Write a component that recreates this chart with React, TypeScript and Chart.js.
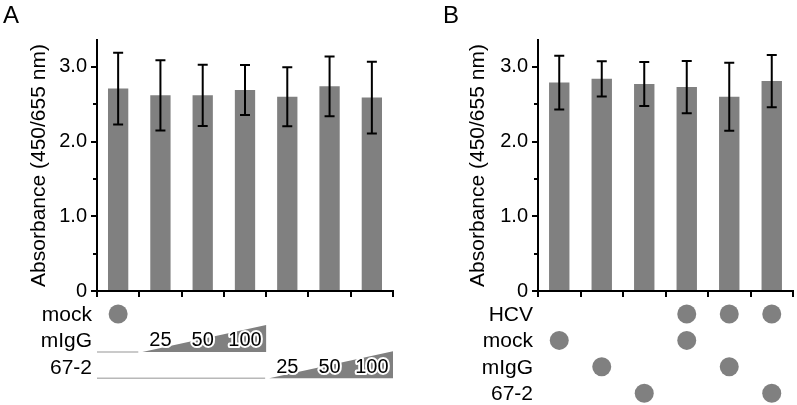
import React, { useEffect, useRef } from 'react';
import { Chart, registerables } from 'chart.js';

Chart.register(...registerables);

const FONT = '"Liberation Sans", Arial, Helvetica, sans-serif';

// ---------- Panel A data ----------
const categoriesA = ['1', '2', '3', '4', '5', '6', '7'];
const meanA = [2.71, 2.62, 2.62, 2.69, 2.6, 2.74, 2.59];
const sdA = [0.48, 0.47, 0.41, 0.335, 0.395, 0.4, 0.48];
const rowLabelsA = ['mock', 'mIgG', '67-2'];
const mockA = [1, 0, 0, 0, 0, 0, 0];
const mIgGDoseA = [null, 25, 50, 100, null, null, null];
const ab672DoseA = [null, null, null, null, 25, 50, 100];

// ---------- Panel B data ----------
const categoriesB = ['1', '2', '3', '4', '5', '6'];
const meanB = [2.79, 2.84, 2.77, 2.73, 2.6, 2.81];
const sdB = [0.36, 0.235, 0.295, 0.35, 0.455, 0.35];
const rowLabelsB = ['HCV', 'mock', 'mIgG', '67-2'];
const hcvB = [0, 0, 0, 1, 1, 1];
const mockB = [1, 0, 0, 1, 0, 0];
const mIgGB = [0, 1, 0, 0, 1, 0];
const ab672B = [0, 0, 1, 0, 0, 1];

// ---------- Axis ----------
const yTickValues = [0, 0.5, 1, 1.5, 2, 2.5, 3];
const yTickLabels: Record<string, string> = { '0': '0', '1': '1.0', '2': '2.0', '3': '3.0' };
const yAxisTitle = 'Absorbance (450/655 nm)';

const BAR_COLOR = '#808080';

type Row = { label: string; kind: 'dots' | 'wedge'; values: (number | null)[] };

const rowsA: Row[] = [
  { label: rowLabelsA[0], kind: 'dots', values: mockA },
  { label: rowLabelsA[1], kind: 'wedge', values: mIgGDoseA },
  { label: rowLabelsA[2], kind: 'wedge', values: ab672DoseA },
];
const rowsB: Row[] = [
  { label: rowLabelsB[0], kind: 'dots', values: hcvB },
  { label: rowLabelsB[1], kind: 'dots', values: mockB },
  { label: rowLabelsB[2], kind: 'dots', values: mIgGB },
  { label: rowLabelsB[3], kind: 'dots', values: ab672B },
];

type PanelCfg = {
  letter: string;
  letterX: number;
  categories: string[];
  means: number[];
  sds: number[];
  rows: Row[];
  padLeft: number;
  padRight: number;
  yWidth: number;
  width: number;
};

function makePlugin(cfg: PanelCfg) {
  return {
    id: 'decor' + cfg.letter,
    afterDatasetsDraw(chart: any) {
      const { ctx } = chart;
      const y = chart.scales.y;
      const meta = chart.getDatasetMeta(0);
      ctx.save();
      ctx.strokeStyle = '#000';
      ctx.lineWidth = 2;
      cfg.means.forEach((m, i) => {
        const bx = meta.data[i].x;
        const yt = y.getPixelForValue(m + cfg.sds[i]);
        const yb = y.getPixelForValue(m - cfg.sds[i]);
        ctx.beginPath();
        ctx.moveTo(bx, yt);
        ctx.lineTo(bx, yb);
        ctx.moveTo(bx - 5, yt);
        ctx.lineTo(bx + 5, yt);
        ctx.moveTo(bx - 5, yb);
        ctx.lineTo(bx + 5, yb);
        ctx.stroke();
      });
      ctx.restore();
    },
    afterDraw(chart: any) {
      const { ctx, chartArea } = chart;
      const x = chart.scales.x;
      const y = chart.scales.y;
      ctx.save();
      // y tick marks (major & minor)
      ctx.strokeStyle = '#000';
      ctx.lineWidth = 2;
      yTickValues.forEach((v) => {
        const py = Math.round(y.getPixelForValue(v));
        const len = Number.isInteger(v) ? 6 : 4;
        ctx.beginPath();
        ctx.moveTo(chartArea.left - len, py);
        ctx.lineTo(chartArea.left, py);
        ctx.stroke();
      });

      // panel letter
      ctx.fillStyle = '#000';
      ctx.font = `24px ${FONT}`;
      ctx.textAlign = 'left';
      ctx.textBaseline = 'alphabetic';
      ctx.fillText(cfg.letter, cfg.letterX, 23);

      // annotation rows
      const c0 = x.getPixelForValue(0);
      const half = (x.getPixelForValue(1) - c0) / 2;
      const boundary = (i: number) => x.getPixelForValue(i) - half;
      cfg.rows.forEach((row, r) => {
        const base = chartArea.bottom + 30 + r * 26.4;
        ctx.fillStyle = '#000';
        ctx.font = `21px ${FONT}`;
        ctx.textAlign = 'right';
        ctx.textBaseline = 'alphabetic';
        ctx.fillText(row.label, chartArea.left - 5, base);
        if (row.kind === 'dots') {
          ctx.fillStyle = BAR_COLOR;
          row.values.forEach((v, i) => {
            if (!v) return;
            ctx.beginPath();
            ctx.arc(x.getPixelForValue(i), base - 7, 9.5, 0, Math.PI * 2);
            ctx.fill();
          });
        } else {
          const idx = row.values.map((v, i) => (v != null ? i : -1)).filter((i) => i >= 0);
          const first = idx[0];
          const last = idx[idx.length - 1];
          const bottom = base + 4.5;
          const top = bottom - 27;
          // thin baseline
          ctx.strokeStyle = '#b8b8b8';
          ctx.lineWidth = 1.5;
          ctx.beginPath();
          ctx.moveTo(chartArea.left, bottom);
          ctx.lineTo(boundary(first) - 1, bottom);
          ctx.stroke();
          // wedge
          const wx0 = boundary(first) + 3;
          const wx1 = boundary(last + 1);
          ctx.fillStyle = BAR_COLOR;
          ctx.beginPath();
          ctx.moveTo(wx0, bottom);
          ctx.lineTo(wx1, top);
          ctx.lineTo(wx1, bottom);
          ctx.closePath();
          ctx.fill();
          // dose numbers with white halo
          ctx.font = `20px ${FONT}`;
          ctx.textAlign = 'center';
          ctx.lineJoin = 'round';
          idx.forEach((i) => {
            const t = String(row.values[i]);
            const cx = x.getPixelForValue(i);
            ctx.strokeStyle = '#fff';
            ctx.lineWidth = 4;
            ctx.strokeText(t, cx, base - 1);
            ctx.fillStyle = '#000';
            ctx.fillText(t, cx, base - 1);
          });
        }
      });
      ctx.restore();
    },
  };
}

function Panel({ cfg }: { cfg: PanelCfg }) {
  const ref = useRef<HTMLCanvasElement | null>(null);
  useEffect(() => {
    if (!ref.current) return;
    const chart = new Chart(ref.current, {
      type: 'bar',
      data: {
        labels: cfg.categories,
        datasets: [
          {
            data: cfg.means,
            backgroundColor: BAR_COLOR,
            barPercentage: 0.48,
            categoryPercentage: 1,
          },
        ],
      },
      options: {
        animation: false,
        responsive: false,
        devicePixelRatio: 1,
        layout: { padding: { left: cfg.padLeft, top: 40, right: cfg.padRight, bottom: 0 } },
        plugins: { legend: { display: false }, tooltip: { enabled: false }, title: { display: false } },
        scales: {
          x: {
            grid: {
              display: true,
              drawOnChartArea: false,
              drawTicks: true,
              tickLength: 6,
              color: '#000',
              lineWidth: 2,
              offset: true,
            },
            border: { display: true, color: '#000', width: 2, z: 1 },
            ticks: { display: false },
            afterFit: (s: any) => {
              s.height = 114;
            },
          },
          y: {
            min: 0,
            max: 3.36,
            afterBuildTicks: (s: any) => {
              s.ticks = yTickValues.map((v) => ({ value: v }));
            },
            grid: { display: false, drawTicks: false },
            border: { display: true, color: '#000', width: 2, z: 1 },
            ticks: {
              padding: 10,
              color: '#000',
              font: { family: FONT, size: 20 },
              callback: (v: any) => yTickLabels[String(v)] ?? '',
            },
            title: {
              display: true,
              text: yAxisTitle,
              color: '#000',
              font: { family: FONT, size: 21 },
              padding: { top: 27, bottom: 0 },
            },
            afterFit: (s: any) => {
              s.width = cfg.yWidth;
            },
          },
        },
      } as any,
      plugins: [makePlugin(cfg)],
    });
    return () => chart.destroy();
  }, [cfg]);
  return <canvas ref={ref} width={cfg.width} height={405} style={{ display: 'block' }} />;
}

const cfgA: PanelCfg = {
  letter: 'A',
  letterX: 3,
  categories: categoriesA,
  means: meanA,
  sds: sdA,
  rows: rowsA,
  padLeft: 0,
  padRight: 7,
  yWidth: 97,
  width: 400,
};

const cfgB: PanelCfg = {
  letter: 'B',
  letterX: 43,
  categories: categoriesB,
  means: meanB,
  sds: sdB,
  rows: rowsB,
  padLeft: 39,
  padRight: 4,
  yWidth: 99,
  width: 397,
};

export default function App() {
  return (
    <div
      style={{
        position: 'absolute',
        left: 0,
        top: 0,
        width: 797,
        height: 405,
        background: '#fff',
        display: 'flex',
      }}
    >
      <Panel cfg={cfgA} />
      <Panel cfg={cfgB} />
    </div>
  );
}
